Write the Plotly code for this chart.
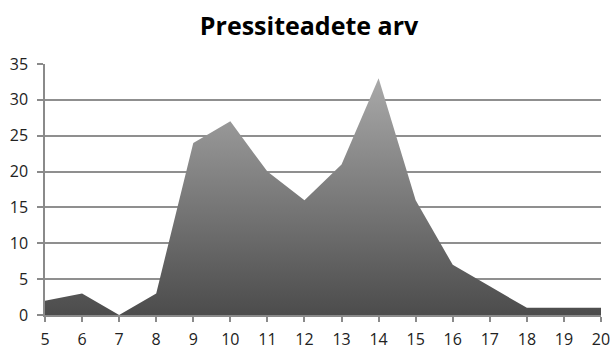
import plotly.graph_objects as go

# Press releases per hour of the day
hours = [5, 6, 7, 8, 9, 10, 11, 12, 13, 14, 15, 16, 17, 18, 19, 20]
counts = [2, 3, 0, 3, 24, 27, 20, 16, 21, 33, 16, 7, 4, 1, 1, 1]
y_ticks = [0, 5, 10, 15, 20, 25, 30, 35]

fig = go.Figure()
fig.add_trace(go.Scatter(
    x=hours,
    y=counts,
    mode="lines",
    fill="tozeroy",
    line=dict(width=0, color="#6a6a6a"),
    fillgradient=dict(
        type="vertical",
        colorscale=[[0, "#4c4c4c"], [1, "#a9a9a9"]],
        start=0,
        stop=max(counts),
    ),
    hoverinfo="x+y",
    showlegend=False,
))

fig.update_layout(
    width=612,
    height=351,
    margin=dict(l=45, r=11, t=64, b=36),
    paper_bgcolor="white",
    plot_bgcolor="white",
    title=dict(
        text="<b>Pressiteadete arv</b>",
        x=0.505,
        xanchor="center",
        y=0.925,
        yanchor="middle",
        font=dict(family="Open Sans", size=25, color="black"),
    ),
    font=dict(family="Open Sans", size=16, color="#222222"),
)

fig.update_xaxes(
    range=[5, 20],
    tickmode="array",
    tickvals=hours,
    ticktext=[str(h) for h in hours],
    showgrid=False,
    showline=True,
    linecolor="#8a8a8a",
    linewidth=1.5,
    ticks="outside",
    ticklen=5,
    tickwidth=1.5,
    tickcolor="#8a8a8a",
    ticklabelstandoff=4,
    zeroline=False,
    automargin=False,
    fixedrange=True,
)

fig.update_yaxes(
    range=[0, 35],
    tickmode="array",
    tickvals=y_ticks,
    showgrid=True,
    gridcolor="#8f8f8f",
    gridwidth=1.5,
    showline=True,
    linecolor="#8a8a8a",
    linewidth=1.5,
    ticks="outside",
    ticklen=6,
    tickwidth=1.5,
    tickcolor="#8a8a8a",
    ticklabelstandoff=6,
    zeroline=False,
    automargin=False,
    fixedrange=True,
)

fig.write_html("out.html")
